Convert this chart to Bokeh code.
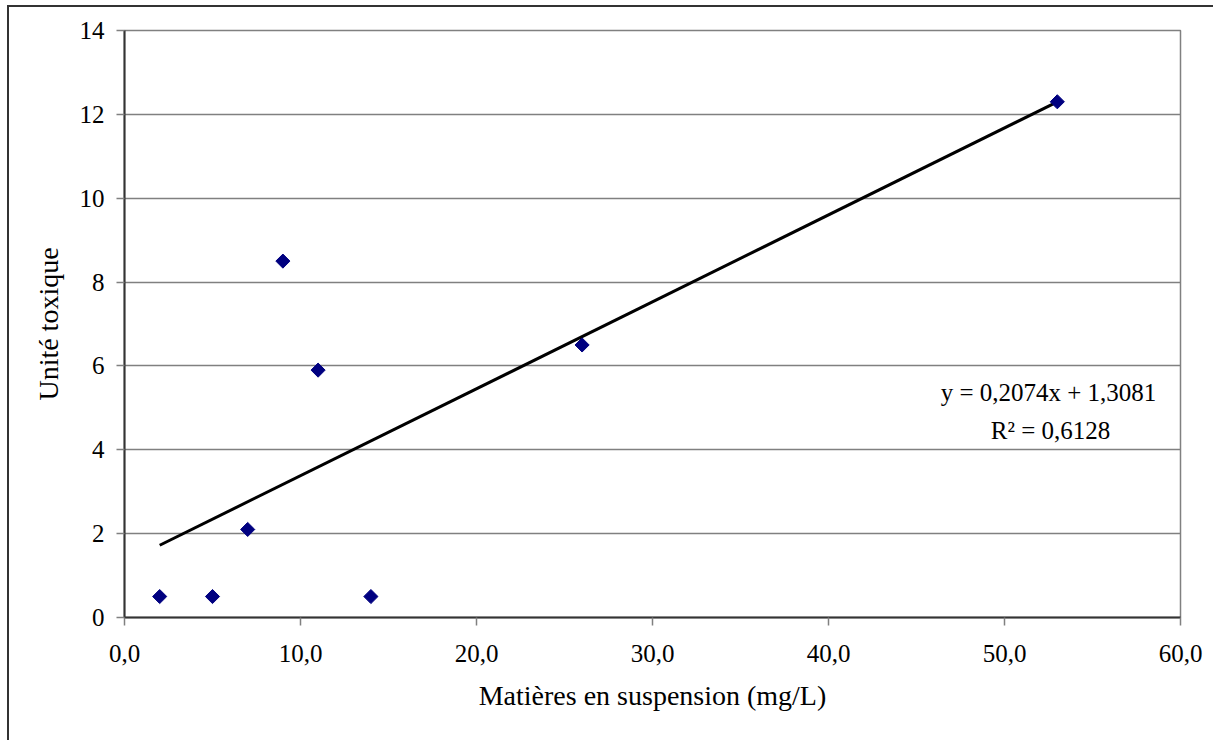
import numpy as np
from bokeh.plotting import figure
from bokeh.models import Range1d, FixedTicker, Label
from bokeh.embed import file_html
from bokeh.resources import INLINE

# Suspended solids (mg/L) vs toxic units
mes = [2, 5, 7, 9, 11, 14, 26, 53]
unite_toxique = [0.5, 0.5, 2.1, 8.5, 5.9, 0.5, 6.5, 12.3]

x_ticks = [0, 10, 20, 30, 40, 50, 60]
x_tick_labels = ["0,0", "10,0", "20,0", "30,0", "40,0", "50,0", "60,0"]
y_ticks = [0, 2, 4, 6, 8, 10, 12, 14]
y_tick_labels = ["0", "2", "4", "6", "8", "10", "12", "14"]

FONT = "Liberation Serif"

# linear least-squares trendline
slope, intercept = np.polyfit(mes, unite_toxique, 1)
pred = slope * np.array(mes) + intercept
ss_res = np.sum((np.array(unite_toxique) - pred) ** 2)
ss_tot = np.sum((np.array(unite_toxique) - np.mean(unite_toxique)) ** 2)
r2 = 1 - ss_res / ss_tot

def fr(v):
    return f"{v:.4f}".replace(".", ",")

p = figure(width=1206, height=735, output_backend="svg", toolbar_location=None,
           x_range=Range1d(x_ticks[0], x_ticks[-1]), y_range=Range1d(y_ticks[0], y_ticks[-1]),
           margin=(5, 0, 0, 7),
           styles={"border-left": "2px solid #333333", "border-top": "2px solid #333333"})
p.min_border_left = 115
p.min_border_right = 35
p.min_border_top = 23
p.min_border_bottom = 125
p.background_fill_color = "white"
p.border_fill_color = "white"
p.outline_line_color = "#808080"
p.outline_line_width = 1.5

p.xgrid.visible = False
p.ygrid.grid_line_color = "#808080"
p.ygrid.grid_line_width = 1.5
p.ygrid.ticker = FixedTicker(ticks=y_ticks)

p.xaxis.ticker = FixedTicker(ticks=x_ticks)
p.yaxis.ticker = FixedTicker(ticks=y_ticks)
p.xaxis.major_label_overrides = dict(zip(x_ticks, x_tick_labels))
p.yaxis.major_label_overrides = dict(zip(y_ticks, y_tick_labels))

for ax in (p.xaxis[0], p.yaxis[0]):
    ax.axis_line_color = "#333333"
    ax.axis_line_width = 2
    ax.major_tick_line_color = "#808080"
    ax.major_tick_line_width = 1.5
    ax.major_tick_in = 0
    ax.major_tick_out = 8
    ax.minor_tick_line_color = None
    ax.major_label_text_font = FONT
    ax.major_label_text_font_size = "25px"
    ax.major_label_text_color = "black"
    ax.axis_label_text_font = FONT
    ax.axis_label_text_font_size = "28px"
    ax.axis_label_text_font_style = "normal"
    ax.axis_label_text_color = "black"

p.xaxis.axis_label = "Matières en suspension (mg/L)"
p.yaxis.axis_label = "Unité toxique"
p.xaxis.major_label_standoff = 19
p.yaxis.major_label_standoff = 12
p.xaxis.axis_label_standoff = 15
p.yaxis.axis_label_standoff = 13

# trendline across the data range
xl = [min(mes), max(mes)]
p.line(xl, [slope * v + intercept for v in xl], line_color="black", line_width=3)

p.scatter(mes, unite_toxique, marker="square", size=10, angle=np.pi / 4,
          fill_color="#000080", line_color="#000080")

# equation and R² (screen units, measured from the frame's lower-left corner)
p.add_layout(Label(x=924, y=225, x_units="screen", y_units="screen",
                   text=f"y = {fr(slope)}x + {fr(intercept)}", text_font=FONT,
                   text_font_size="25px", text_color="black",
                   text_align="center", text_baseline="middle"))
p.add_layout(Label(x=926, y=187, x_units="screen", y_units="screen",
                   text=f"R² = {fr(r2)}", text_font=FONT,
                   text_font_size="25px", text_color="black",
                   text_align="center", text_baseline="middle"))

open("out.html", "w").write(file_html(p, INLINE))
